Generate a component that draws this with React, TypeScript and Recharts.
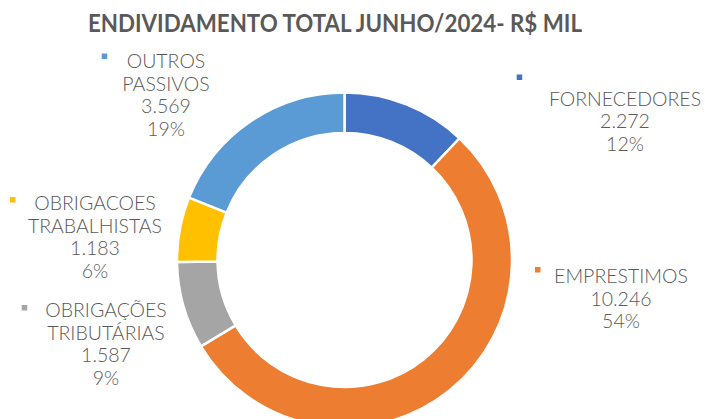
import React from "react";
import { PieChart, Pie, Cell } from "recharts";

const categories = [
  "FORNECEDORES",
  "EMPRESTIMOS",
  "OBRIGAÇÕES TRIBUTÁRIAS",
  "OBRIGACOES TRABALHISTAS",
  "OUTROS PASSIVOS",
];
const values = [2272, 10246, 1587, 1183, 3569];
const percentLabels = ["12%", "54%", "9%", "6%", "19%"];
const colors = ["#4472C4", "#ED7D31", "#A5A5A5", "#FFC000", "#5B9BD5"];
const title = "ENDIVIDAMENTO TOTAL JUNHO/2024- R$ MIL";

// label placement (text block centre / first baseline, marker box)
const labelLayout = [
  { x: 625, y: 105.7, mx: 516.7, my: 74.5 },
  { x: 621, y: 283.3, mx: 535, my: 267 },
  { x: 106, y: 317, mx: 21.7, my: 305 },
  { x: 95, y: 210, mx: 10, my: 197 },
  { x: 166, y: 68.3, mx: 101.7, my: 53.5 },
];

const data = categories.map((name, i) => ({ name, value: values[i] }));

const fmt = (v: number) => String(v).replace(/\B(?=(\d{3})+(?!\d))/g, ".");

const LINE = 22.5;
const TEXT_COLOR = "#595959";
const FONT = "Lato, 'DejaVu Sans', sans-serif";

const renderLabel = (props: any) => {
  const i = props.index;
  const l = labelLayout[i];
  const lines = [...categories[i].split(" "), fmt(values[i]), percentLabels[i]];
  return (
    <g key={`lbl-${i}`}>
      <rect x={l.mx} y={l.my} width={5.5} height={5.5} fill={colors[i]} />
      <text
        textAnchor="middle"
        fill={TEXT_COLOR}
        style={{ fontFamily: FONT, fontSize: 19.5, fontWeight: 300 }}
      >
        {lines.map((t, k) => (
          <tspan key={k} x={l.x} y={l.y + k * LINE}>
            {t}
          </tspan>
        ))}
      </text>
    </g>
  );
};

export default function App() {
  return (
    <div style={{ position: "absolute", left: 0, top: 0, width: 705, height: 419, background: "#fff", overflow: "hidden" }}>
      <PieChart width={705} height={419} margin={{ top: 0, right: 0, bottom: 0, left: 0 }}>
        <Pie
          data={data}
          dataKey="value"
          nameKey="name"
          cx={344.5}
          cy={260}
          innerRadius={127}
          outerRadius={167.5}
          startAngle={90}
          endAngle={-270}
          stroke="#ffffff"
          strokeWidth={2.5}
          label={renderLabel}
          labelLine={false}
          isAnimationActive={false}
        >
          {data.map((d, i) => (
            <Cell key={d.name} fill={colors[i]} />
          ))}
        </Pie>
      </PieChart>
      <svg width={705} height={419} style={{ position: "absolute", left: 0, top: 0, pointerEvents: "none" }}>
        <text
          x={335}
          y={31.7}
          textAnchor="middle"
          fill={TEXT_COLOR}
          textLength={494}
          lengthAdjust="spacingAndGlyphs"
          style={{ fontFamily: FONT, fontSize: 24.7, fontWeight: 700 }}
        >
          {title}
        </text>
      </svg>
    </div>
  );
}
